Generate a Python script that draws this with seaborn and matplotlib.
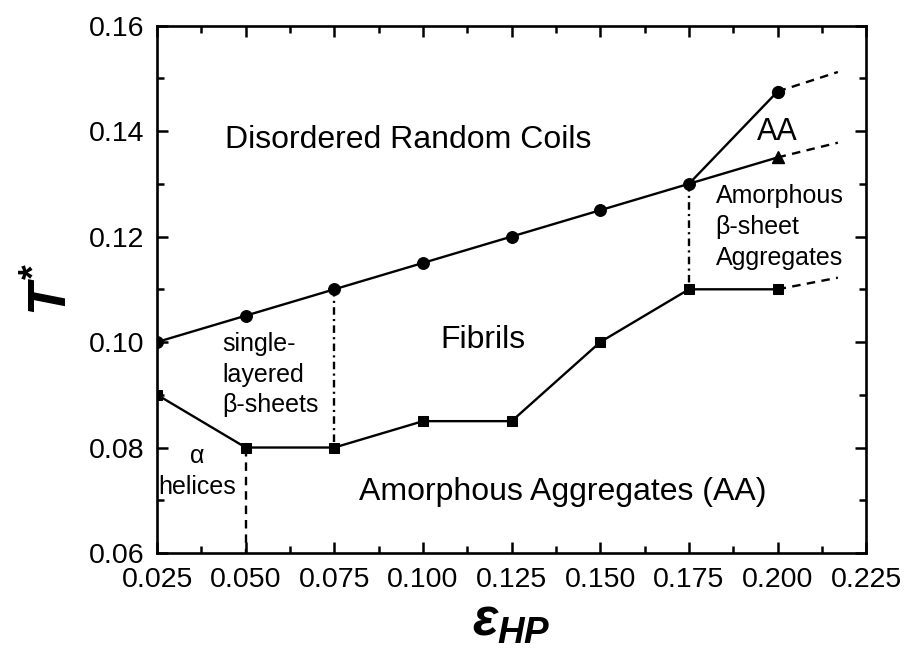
import matplotlib
matplotlib.use("Agg")
import matplotlib.pyplot as plt
import seaborn as sns
import pandas as pd
from matplotlib.ticker import MultipleLocator

# ---- data ----
eps_upper = [0.025, 0.050, 0.075, 0.100, 0.125, 0.150, 0.175]
T_upper = [0.100, 0.105, 0.110, 0.115, 0.120, 0.125, 0.130]

eps_lower = [0.025, 0.050, 0.075, 0.100, 0.125, 0.150, 0.175, 0.200]
T_lower = [0.090, 0.080, 0.080, 0.085, 0.085, 0.100, 0.110, 0.110]

eps_branch = [0.175, 0.200]
T_branch_aa = [0.130, 0.1475]
T_branch_beta = [0.130, 0.135]

eps_ext = [0.200, 0.217]
T_ext_aa = [0.1475, 0.1512]
T_ext_beta = [0.135, 0.1378]
T_ext_lower = [0.110, 0.1122]

vline_x = [0.050, 0.075, 0.175]
vline_top = [0.080, 0.110, 0.130]
vline_bottom = [0.060, 0.080, 0.110]

xticks = [0.025, 0.050, 0.075, 0.100, 0.125, 0.150, 0.175, 0.200, 0.225]
yticks = [0.06, 0.08, 0.10, 0.12, 0.14, 0.16]

sns.set_theme(style="ticks")
plt.rcParams['font.family'] = ['Liberation Sans', 'DejaVu Sans']
plt.rcParams['text.color'] = 'black'
plt.rcParams['axes.labelcolor'] = 'black'
plt.rcParams['mathtext.fontset'] = 'custom'
plt.rcParams['mathtext.it'] = 'Liberation Sans:italic:bold'
plt.rcParams['mathtext.rm'] = 'Liberation Sans:bold'
plt.rcParams['mathtext.bf'] = 'Liberation Sans:bold'

fig = plt.figure(figsize=(9.08, 6.56), dpi=100)
ax = fig.add_axes([0.173, 0.157, 0.781, 0.804])

lw = 1.7
up = pd.DataFrame({"eps": eps_upper, "T": T_upper})
lo = pd.DataFrame({"eps": eps_lower, "T": T_lower})

sns.lineplot(data=up, x="eps", y="T", ax=ax, color="black", lw=lw,
             marker="o", markersize=8.5, markeredgecolor="black", sort=False)
sns.lineplot(data=lo, x="eps", y="T", ax=ax, color="black", lw=lw,
             marker="s", markersize=7.5, markeredgecolor="black", sort=False)
sns.lineplot(x=eps_branch, y=T_branch_aa, ax=ax, color="black", lw=lw)
sns.lineplot(x=eps_branch, y=T_branch_beta, ax=ax, color="black", lw=lw)
ax.plot([eps_branch[1]], [T_branch_aa[1]], "o", color="black", ms=8.5)
ax.plot([eps_branch[1]], [T_branch_beta[1]], "^", color="black", ms=9)

for T in (T_ext_aa, T_ext_beta, T_ext_lower):
    ax.plot(eps_ext, T, color="black", lw=lw, dashes=(3.6, 2.7))

ax.plot([vline_x[0]] * 2, [vline_top[0], vline_bottom[0]], color="black",
        lw=lw, dashes=(3.6, 2.5))
for i in (1, 2):
    ax.plot([vline_x[i]] * 2, [vline_top[i], vline_bottom[i]], color="black",
            lw=lw, dashes=(3.2, 1.8, 0.9, 1.8))

# annotations
fs = 23
fs2 = 18
ls = 1.35
ax.text(0.0958, 0.1383, "Disordered Random Coils", ha="center", va="center", fontsize=fs)
ax.text(0.2, 0.1398, "AA", ha="center", va="center", fontsize=fs - 1)
ax.text(0.1825, 0.1218, "Amorphous\nβ-sheet\nAggregates", ha="left", va="center",
        fontsize=fs2, linespacing=ls)
ax.text(0.117, 0.1004, "Fibrils", ha="center", va="center", fontsize=fs)
ax.text(0.0433, 0.0938, "single-\nlayered\nβ-sheets", ha="left", va="center",
        fontsize=fs2, linespacing=ls)
ax.text(0.0363, 0.0755, "α\nhelices", ha="center", va="center", fontsize=fs2,
        linespacing=ls)
ax.text(0.1393, 0.0716, "Amorphous Aggregates (AA)", ha="center", va="center", fontsize=fs)

ax.set_xlim(0.025, 0.225)
ax.set_ylim(0.06, 0.16)
ax.set_xticks(xticks)
ax.set_yticks(yticks)
ax.set_xticklabels([f"{v:.3f}" for v in xticks])
ax.set_yticklabels([f"{v:.2f}" for v in yticks])
ax.xaxis.set_minor_locator(MultipleLocator(0.0125))
ax.yaxis.set_minor_locator(MultipleLocator(0.01))
ax.tick_params(which="both", direction="in", top=True, right=True, width=1.8,
               labelsize=20.5, colors="black")
ax.tick_params(axis="x", which="major", pad=10)
ax.tick_params(axis="y", which="major", pad=9)
ax.tick_params(which="major", length=8)
ax.tick_params(which="minor", length=5)
for s in ax.spines.values():
    s.set_linewidth(1.9)
    s.set_color("black")

ax.set_xlabel(r"$\varepsilon_{HP}$", fontsize=38, labelpad=3)
ax.set_ylabel(r"$T^{*}$", fontsize=39, labelpad=8)

fig.savefig("out.png", dpi=100)
